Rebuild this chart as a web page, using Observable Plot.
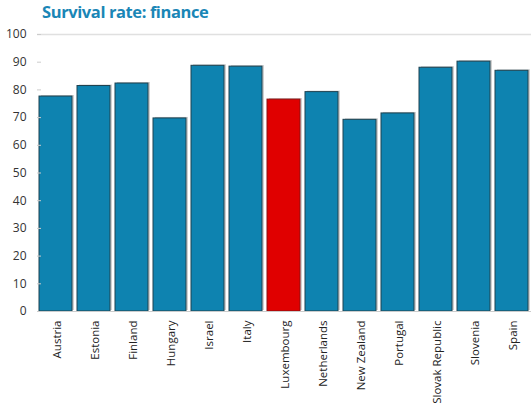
<!DOCTYPE html>
<html><head><meta charset="utf-8">
<script src="https://cdn.jsdelivr.net/npm/d3@7"></script>
<script src="https://cdn.jsdelivr.net/npm/@observablehq/plot@0.6"></script>
<style>
body{margin:0;background:#fff;overflow:hidden;width:531px;}
#title{height:24px;padding-left:42px;font-family:"Open Sans",sans-serif;font-weight:700;font-size:16.5px;line-height:24px;color:#1a86b6;white-space:nowrap;letter-spacing:-0.4px;}
</style></head>
<body>
<div id="title">Survival rate: finance</div>
<div id="chart"></div>
<script>
const countries = ["Austria","Estonia","Finland","Hungary","Israel","Italy","Luxembourg","Netherlands","New Zealand","Portugal","Slovak Republic","Slovenia","Spain"];
const values = [77.6, 81.4, 82.3, 69.7, 88.7, 88.4, 76.5, 79.2, 69.2, 71.5, 88.0, 90.2, 86.9];
const highlight = "Luxembourg";
const yTicks = [0,10,20,30,40,50,60,70,80,90,100];

const data = countries.map((c,i)=>({country:c, value:values[i], hl:c===highlight}));

const chart = Plot.plot({
  width: 531,
  height: 379,
  marginLeft: 37,
  marginRight: 0,
  marginTop: 10,
  marginBottom: 92,
  style: {fontFamily: "'Open Sans', sans-serif", fontSize: "11px", color: "#333", background: "#fff"},
  x: {domain: countries, paddingInner: 0.13, paddingOuter: 0.05, label: null},
  y: {domain: [0,100], label: null},
  marks: [
    Plot.ruleY([100], {stroke: "#e0e0e0", strokeWidth: 1.5}),
    Plot.barY(data, {x: "country", y: "value", fill: "#d0d0d0", dx: 2, dy: -1}),
    Plot.barY(data, {x: "country", y: "value", fill: d => d.hl ? "#e00000" : "#0e83b0", stroke: d => d.hl ? "#8a1010" : "#1e4250", strokeWidth: 1}),
    Plot.ruleY([0], {stroke: "#cccccc"}),
    Plot.axisY({ticks: yTicks, tickSize: 0, tickPadding: 11, fontSize: 12, fill: "#333", line: true, stroke: "#cccccc"}),
    Plot.axisY({ticks: yTicks, tickSize: -4, text: null, stroke: "#cccccc"}),
    Plot.axisX({tickSize: 0, tickPadding: 9, tickRotate: -90, fontSize: 11.5, fill: "#222", dx: 1})
  ]
});
document.getElementById("chart").appendChild(chart);
</script>
</body></html>
